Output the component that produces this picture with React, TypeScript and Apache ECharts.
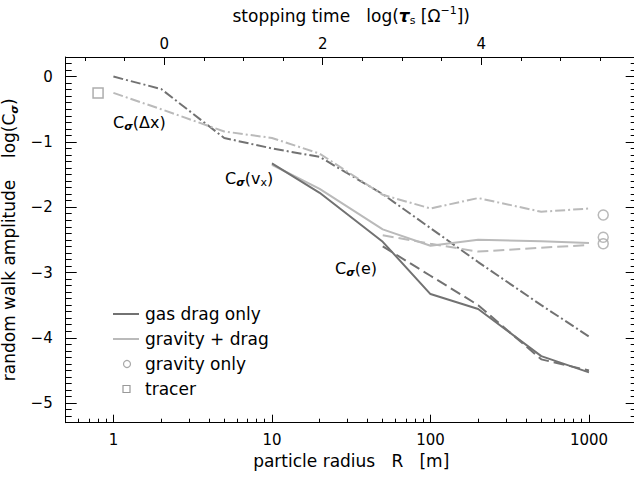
import React, { useEffect, useRef } from 'react';
import * as echarts from 'echarts';

// ---- data ----
const radiusFull = [1, 2, 5, 10, 20, 50, 100, 200, 500, 1000];
const radiusFrom10 = [10, 20, 50, 100, 200, 500, 1000];
const radiusFrom50 = [50, 100, 200, 500, 1000];

// C_sigma(Δx)  (dash-dot)
const dxGasDrag = [0.0, -0.19, -0.94, -1.1, -1.23, -1.8, -2.32, -2.84, -3.5, -3.98];
const dxGravDrag = [-0.25, -0.5, -0.84, -0.94, -1.18, -1.81, -2.02, -1.86, -2.07, -2.02];
// C_sigma(v_x)  (solid)
const vxGasDrag = [-1.33, -1.78, -2.53, -3.33, -3.56, -4.28, -4.53];
const vxGravDrag = [-1.35, -1.72, -2.34, -2.59, -2.5, -2.52, -2.55];
// C_sigma(e)  (dashed)
const eGasDrag = [-2.6, -3.05, -3.5, -4.33, -4.5];
const eGravDrag = [-2.43, -2.56, -2.68, -2.62, -2.58];
// gravity only (circles) and tracer (square)
const gravityOnlyR = [1230, 1230, 1230];
const gravityOnlyValues = [-2.12, -2.46, -2.56];
const tracerR = [0.8];
const tracerValues = [-0.25];

// ---- axes / ticks ----
const R_MIN = 0.5;
const R_MAX = 2000;
const Y_MIN = -5.3;
const Y_MAX = 0.3;
const TAU_OFFSET = -0.64; // log(tau_s) = 2 log(R) + offset
const xMajorTicks = [1, 10, 100, 1000];
const xMinorTicks = [0.6, 0.7, 0.8, 0.9, 2, 3, 4, 5, 6, 7, 8, 9, 20, 30, 40, 50, 60, 70, 80, 90, 200, 300, 400, 500, 600, 700, 800, 900];
const yMajorTicks = [0, -1, -2, -3, -4, -5];
const topMajorTicks = [0, 2, 4];
const topMinorTicks = [-1, -0.5, 0.5, 1, 1.5, 2.5, 3, 3.5, 4.5, 5, 5.5];
const legendLabels = ['gas drag only', 'gravity + drag', 'gravity only', 'tracer'];

const DARK = '#727272';
const LIGHT = '#bababa';
const FONT = 'DejaVu Sans';
const DASHDOT = [10, 3, 2, 3];
const DASHED = [11, 5];

const zip = (xs: number[], ys: number[]) => xs.map((x, i) => [x, ys[i]]);

function yMinorTicks(): number[] {
  const out: number[] = [];
  for (let k = -53; k <= 3; k++) {
    if (k % 10 !== 0) out.push(k / 10);
  }
  return out;
}

const makeRich = (size: number) => ({
  c: { fontFamily: FONT, fontSize: size, color: '#000', lineHeight: size + 4 },
  s: { fontFamily: FONT, fontSize: 11, fontWeight: 'bold', fontStyle: 'italic', color: '#000', verticalAlign: 'bottom', lineHeight: 13 },
  b: { fontFamily: FONT, fontSize: 11, color: '#000', verticalAlign: 'bottom', lineHeight: 13 },
  p: { fontFamily: FONT, fontSize: 11, color: '#000', verticalAlign: 'top', lineHeight: 13 },
  t: { fontFamily: FONT, fontSize: size, fontWeight: 'bold', fontStyle: 'italic', color: '#000', lineHeight: size + 4 },
});
const richTitle = makeRich(17);
const richNote = makeRich(16);

export default function App() {
  const ref = useRef<HTMLDivElement>(null);
  useEffect(() => {
    document.body.style.margin = '0';
    if (!ref.current) return;
    const chart = echarts.init(ref.current, undefined, { renderer: 'svg' });
    const lx0 = Math.log10(R_MIN);
    const lx1 = Math.log10(R_MAX);
    const tauMin = 2 * lx0 + TAU_OFFSET;
    const tauMax = 2 * lx1 + TAU_OFFSET;
    const tickStyle = { color: '#000', width: 1 };
    const labelStyle = { fontFamily: FONT, fontSize: 15, color: '#000' };

    const lineSeries = (name: string, xs: number[], ys: number[], color: string, type: any) => ({
      name,
      type: 'line',
      xAxisIndex: 0,
      yAxisIndex: 0,
      data: zip(xs, ys),
      symbol: 'none',
      silent: true,
      lineStyle: { color, width: 2, type },
    });

    const legendY = [314, 339, 364, 389];

    chart.setOption({
      animation: false,
      backgroundColor: '#fff',
      grid: { left: 65.7, top: 57, right: -2.7, bottom: 58.3, containLabel: false, outerBoundsMode: 'none' },
      xAxis: [
        {
          type: 'log', logBase: 10, min: R_MIN, max: R_MAX, position: 'bottom',
          axisLine: { show: true, onZero: false, lineStyle: tickStyle },
          axisTick: { show: false }, axisLabel: { show: false }, splitLine: { show: false },
          name: 'particle radius   R   [m]', nameLocation: 'middle', nameGap: 30,
          nameTextStyle: { fontFamily: FONT, fontSize: 17, color: '#000' },
        },
        {
          type: 'value', min: lx0, max: lx1, position: 'bottom',
          axisLine: { show: false, onZero: false },
          axisTick: { show: true, inside: true, length: 8, lineStyle: tickStyle, customValues: xMajorTicks.map(Math.log10) },
          axisLabel: { show: true, margin: 10, ...labelStyle, customValues: xMajorTicks.map(Math.log10), formatter: (v: number) => String(Math.round(Math.pow(10, v))) },
          splitLine: { show: false },
        },
        {
          type: 'value', min: lx0, max: lx1, position: 'bottom',
          axisLine: { show: false, onZero: false },
          axisTick: { show: true, inside: true, length: 4, lineStyle: tickStyle, customValues: xMinorTicks.map(Math.log10) },
          axisLabel: { show: false }, splitLine: { show: false },
        },
        {
          type: 'value', min: tauMin, max: tauMax, position: 'top',
          axisLine: { show: true, onZero: false, lineStyle: tickStyle },
          axisTick: { show: true, inside: true, length: 8, lineStyle: tickStyle, customValues: topMajorTicks },
          axisLabel: { show: true, margin: 6, ...labelStyle, customValues: topMajorTicks, formatter: (v: number) => String(v) },
          splitLine: { show: false },
          name: '{c|stopping time   log(}{t|τ}{b|s}{c| [Ω}{p|−1}{c|])}', nameLocation: 'middle', nameGap: 31,
          nameTextStyle: { rich: richTitle },
        },
        {
          type: 'value', min: tauMin, max: tauMax, position: 'top',
          axisLine: { show: false, onZero: false },
          axisTick: { show: true, inside: true, length: 4, lineStyle: tickStyle, customValues: topMinorTicks },
          axisLabel: { show: false }, splitLine: { show: false },
        },
      ],
      yAxis: [
        {
          type: 'value', min: Y_MIN, max: Y_MAX, position: 'left',
          axisLine: { show: true, onZero: false, lineStyle: tickStyle },
          axisTick: { show: true, inside: true, length: 11, lineStyle: tickStyle, customValues: yMajorTicks },
          axisLabel: { show: true, margin: 13, ...labelStyle, customValues: yMajorTicks, formatter: (v: number) => (v === 0 ? '0' : '−' + Math.abs(v)) },
          splitLine: { show: false },
          name: '{c|random walk amplitude    log(C}{s|σ}{c|)}', nameLocation: 'middle', nameGap: 38,
          nameTextStyle: { rich: richTitle },
        },
        {
          type: 'value', min: Y_MIN, max: Y_MAX, position: 'left',
          axisLine: { show: false, onZero: false },
          axisTick: { show: true, inside: true, length: 6, lineStyle: tickStyle, customValues: yMinorTicks() },
          axisLabel: { show: false }, splitLine: { show: false },
        },
        {
          type: 'value', min: Y_MIN, max: Y_MAX, position: 'right',
          axisLine: { show: true, onZero: false, lineStyle: tickStyle },
          axisTick: { show: true, inside: true, length: 11, lineStyle: tickStyle, customValues: yMajorTicks },
          axisLabel: { show: false }, splitLine: { show: false },
        },
        {
          type: 'value', min: Y_MIN, max: Y_MAX, position: 'right',
          axisLine: { show: false, onZero: false },
          axisTick: { show: true, inside: true, length: 6, lineStyle: tickStyle, customValues: yMinorTicks() },
          axisLabel: { show: false }, splitLine: { show: false },
        },
      ],
      series: [
        lineSeries('Δx gas drag', radiusFull, dxGasDrag, DARK, DASHDOT),
        lineSeries('Δx gravity + drag', radiusFull, dxGravDrag, LIGHT, DASHDOT),
        lineSeries('gravity + drag', radiusFrom10, vxGravDrag, LIGHT, 'solid'),
        lineSeries('gas drag only', radiusFrom10, vxGasDrag, DARK, 'solid'),
        lineSeries('e gravity + drag', radiusFrom50, eGravDrag, LIGHT, DASHED),
        lineSeries('e gas drag', radiusFrom50, eGasDrag, DARK, DASHED),
        {
          name: 'gravity only', type: 'scatter', xAxisIndex: 0, yAxisIndex: 0,
          data: zip(gravityOnlyR, gravityOnlyValues), symbol: 'circle', symbolSize: 10, silent: true,
          itemStyle: { color: 'rgba(0,0,0,0)', borderColor: '#a8a8a8', borderWidth: 1.5 },
        },
        {
          name: 'tracer', type: 'scatter', xAxisIndex: 0, yAxisIndex: 0,
          data: zip(tracerR, tracerValues), symbol: 'rect', symbolSize: 10, silent: true,
          itemStyle: { color: 'rgba(0,0,0,0)', borderColor: '#999', borderWidth: 1.5 },
        },
      ],
      graphic: [
        { type: 'text', x: 113, y: 122, style: { text: '{c|C}{s|σ}{c|(Δx)}', rich: richNote, verticalAlign: 'middle' } },
        { type: 'text', x: 225, y: 178, style: { text: '{c|C}{s|σ}{c|(v}{b|x}{c|)}', rich: richNote, verticalAlign: 'middle' } },
        { type: 'text', x: 335, y: 268, style: { text: '{c|C}{s|σ}{c|(e)}', rich: richNote, verticalAlign: 'middle' } },
        { type: 'line', shape: { x1: 113, y1: legendY[0], x2: 139, y2: legendY[0] }, style: { stroke: DARK, lineWidth: 2 } },
        { type: 'line', shape: { x1: 113, y1: legendY[1], x2: 139, y2: legendY[1] }, style: { stroke: LIGHT, lineWidth: 2 } },
        { type: 'circle', shape: { cx: 127, cy: legendY[2], r: 3.5 }, style: { stroke: '#a8a8a8', fill: 'none', lineWidth: 1.2 } },
        { type: 'rect', shape: { x: 123, y: legendY[3] - 3.5, width: 7, height: 7 }, style: { stroke: '#999', fill: 'none', lineWidth: 1.2 } },
        ...legendLabels.map((t, i) => ({
          type: 'text', x: 145, y: legendY[i],
          style: { text: t, fontFamily: FONT, fontSize: 17, fill: '#000', verticalAlign: 'middle' },
        })),
      ],
    });
    return () => chart.dispose();
  }, []);
  return <div ref={ref} style={{ width: 634, height: 481 }} />;
}
